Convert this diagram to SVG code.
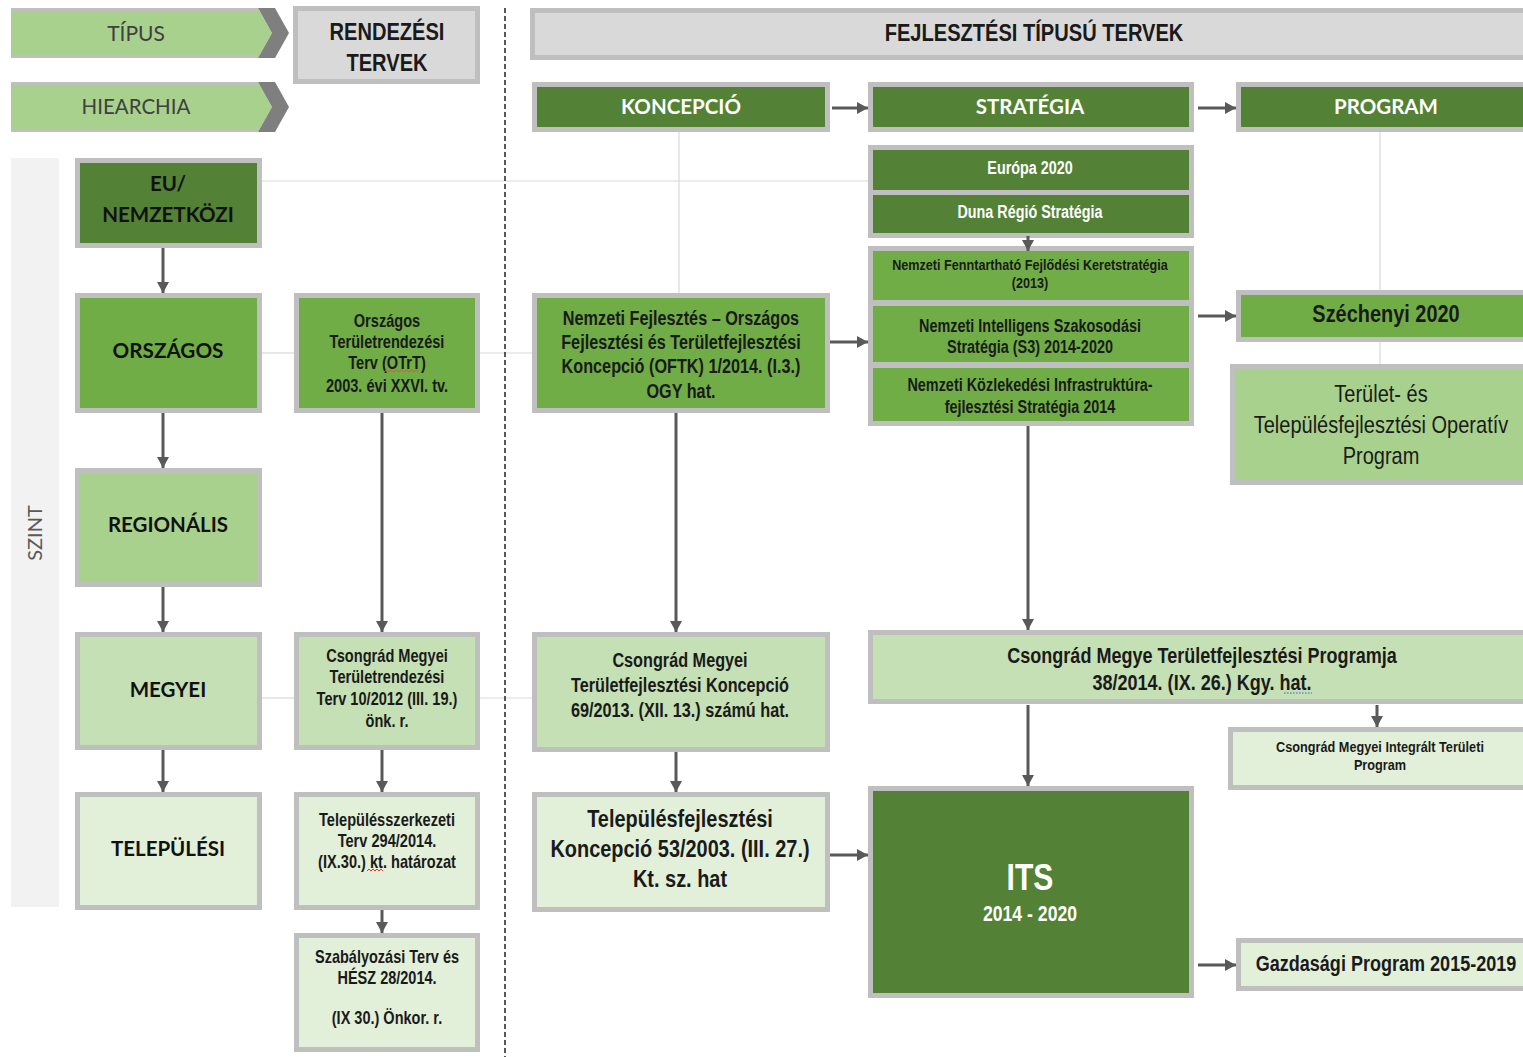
<svg xmlns="http://www.w3.org/2000/svg" width="1523" height="1057" viewBox="0 0 1523 1057">
<defs>
<marker id="ah" markerUnits="userSpaceOnUse" markerWidth="12" markerHeight="12" refX="11" refY="6" orient="auto">
<path d="M0,0 L11,6 L0,12 z" fill="#595959"/>
</marker>
<style>
.box{stroke:#bfbfbf;stroke-width:5}
.g0{fill:#d9d9d9}.g1{fill:#538135}.g2{fill:#70ad47}.g3{fill:#a9d18e}.g4{fill:#c5e0b4}.g5{fill:#e2f0d9}
.c{font-family:Lato,"Open Sans","Liberation Sans",sans-serif;text-anchor:middle}
.n text{font-family:"Liberation Sans",Arial,sans-serif;text-anchor:middle;font-weight:bold;fill:#1a1a1a}
.n.w text{fill:#ffffff}
.n.r text{font-weight:normal}
.w{fill:#ffffff}
.b{font-weight:bold}
.conn line{stroke:#595959;stroke-width:3;marker-end:url(#ah)}
.faint line{stroke:#d9d9d9;stroke-width:1.2}
</style>
</defs>
<rect width="1523" height="1057" fill="#ffffff"/>

<g class="faint">
<line x1="262" y1="181" x2="868" y2="181"/>
<line x1="262" y1="353" x2="294" y2="353"/>
<line x1="480" y1="353" x2="532" y2="353"/>
<line x1="262" y1="698" x2="294" y2="698"/>
<line x1="480" y1="698" x2="532" y2="698"/>
<line x1="679" y1="132" x2="679" y2="293"/>
<line x1="1380" y1="132" x2="1380" y2="290"/>
<line x1="1380" y1="342" x2="1380" y2="364"/>
</g>

<line x1="505" y1="8" x2="505" y2="1057" stroke="#222" stroke-width="1.5" stroke-dasharray="5,3"/>

<g id="tipus">
<polygon points="11,8 258,8 272,33 258,58 11,58" fill="#a9d18e"/>
<polyline points="11,9.5 258,9.5" stroke="#bfbfbf" stroke-width="3"/>
<polyline points="11,56.5 258,56.5" stroke="#bfbfbf" stroke-width="3"/>
<polygon points="258,8 275,8 289,33 275,58 258,58 272,33" fill="#7f7f7f"/>
<text class="c" x="136" y="41" font-size="21" fill="#404040">TÍPUS</text>
</g>
<g id="hierarchia">
<polygon points="11,82 258,82 272,107 258,132 11,132" fill="#a9d18e"/>
<polyline points="11,83.5 258,83.5" stroke="#bfbfbf" stroke-width="3"/>
<polyline points="11,130.5 258,130.5" stroke="#bfbfbf" stroke-width="3"/>
<polygon points="258,82 275,82 289,107 275,132 258,132 272,107" fill="#7f7f7f"/>
<text class="c" x="136" y="114" font-size="20.5" fill="#404040">HIEARCHIA</text>
</g>
<g id="rendezesi">
<rect class="box g0" x="295.5" y="8.5" width="182" height="73"/>
<g class="n" transform="translate(387,0) scale(0.82,1)">
<text x="0" y="40" font-size="24.5">RENDEZÉSI</text>
<text x="0" y="71" font-size="24.5">TERVEK</text>
</g>
</g>
<g id="fejlesztesi">
<rect class="box g0" x="532.5" y="10.5" width="995" height="47"/>
<g class="n" transform="translate(1034,0) scale(0.82,1)">
<text x="0" y="41" font-size="24.5">FEJLESZTÉSI TÍPUSÚ TERVEK</text>
</g>
</g>
<g id="koncepcio">
<rect class="box g1" x="534.5" y="84.5" width="293" height="45"/>
<text class="c b w" x="681" y="114" font-size="20.5">KONCEPCIÓ</text>
</g>
<g id="strategia">
<rect class="box g1" x="870.5" y="84.5" width="321" height="45"/>
<text class="c b w" x="1030" y="114" font-size="20.5">STRATÉGIA</text>
</g>
<g id="program">
<rect class="box g1" x="1238.5" y="84.5" width="290" height="45"/>
<text class="c b w" x="1386" y="114" font-size="20.5">PROGRAM</text>
</g>

<g id="szint">
<rect x="11" y="158" width="48" height="749" fill="#f2f2f2"/>
<text class="c" transform="translate(42,533) rotate(-90)" font-size="20" fill="#595959">SZINT</text>
</g>

<g id="eu">
<rect class="box g1" x="77.5" y="160.5" width="182" height="85"/>
<text class="c b" x="168" y="191" font-size="20.5" fill="#111">EU/</text>
<text class="c b" x="168" y="222" font-size="20.5" fill="#111">NEMZETKÖZI</text>
</g>
<g id="orszagos">
<rect class="box g2" x="77.5" y="295.5" width="182" height="115"/>
<text class="c b" x="168" y="358" font-size="20.7" fill="#111">ORSZÁGOS</text>
</g>
<g id="regionalis">
<rect class="box g3" x="77.5" y="470.5" width="182" height="114"/>
<text class="c b" x="168" y="532" font-size="20.5" fill="#111">REGIONÁLIS</text>
</g>
<g id="megyei">
<rect class="box g4" x="77.5" y="634.5" width="182" height="113"/>
<text class="c b" x="168" y="697" font-size="20.5" fill="#111">MEGYEI</text>
</g>
<g id="telepulesi">
<rect class="box g5" x="77.5" y="794.5" width="182" height="113"/>
<text class="c b" x="168" y="856" font-size="20.5" fill="#111">TELEPÜLÉSI</text>
</g>

<g id="otrt">
<rect class="box g2" x="296.5" y="295.5" width="181" height="115"/>
<g class="n" transform="translate(387,0) scale(0.82,1)">
<text x="0" y="327" font-size="17.8">Országos</text>
<text x="0" y="348" font-size="17.8">Területrendezési</text>
<text x="0" y="369" font-size="17.8">Terv (OTrT)</text>
<text x="0" y="392" font-size="17.8">2003. évi XXVI. tv.</text>
</g>
<path d="M384,372 l2.5,-2 l2.5,2 l2.5,-2 l2.5,2 l2.5,-2 l2.5,2 l2.5,-2 l2.5,2 l2.5,-2 l2.5,2 l2.5,-2 l2.5,2 l2.5,-2 l2.5,2" fill="none" stroke="#e05a2a" stroke-width="1"/>
</g>
<g id="cs-terulrend">
<rect class="box g4" x="296.5" y="634.5" width="181" height="113"/>
<g class="n" transform="translate(387,0) scale(0.82,1)">
<text x="0" y="662" font-size="17.8">Csongrád Megyei</text>
<text x="0" y="683" font-size="17.8">Területrendezési</text>
<text x="0" y="705" font-size="17.8">Terv 10/2012 (III. 19.)</text>
<text x="0" y="727" font-size="17.8">önk. r.</text>
</g>
</g>
<g id="telepszerk">
<rect class="box g5" x="296.5" y="794.5" width="181" height="113"/>
<g class="n" transform="translate(387,0) scale(0.82,1)">
<text x="0" y="826" font-size="17.8">Településszerkezeti</text>
<text x="0" y="847" font-size="17.8">Terv 294/2014.</text>
<text x="0" y="868" font-size="17.8">(IX.30.) kt. határozat</text>
</g>
<path d="M367,871 l2,-2 l2,2 l2,-2 l2,2 l2,-2 l2,2 l2,-2 l2,2" fill="none" stroke="#e03030" stroke-width="1"/>
</g>
<g id="szabalyozasi">
<rect class="box g5" x="296.5" y="935.5" width="181" height="114"/>
<g class="n" transform="translate(387,0) scale(0.82,1)">
<text x="0" y="963" font-size="17.7">Szabályozási Terv és</text>
<text x="0" y="984" font-size="17.7">HÉSZ 28/2014.</text>
<text x="0" y="1024" font-size="17.7">(IX 30.) Önkor. r.</text>
</g>
</g>

<g id="oftk">
<rect class="box g2" x="534.5" y="295.5" width="293" height="115"/>
<g class="n" transform="translate(681,0) scale(0.82,1)">
<text x="0" y="325" font-size="19.8">Nemzeti Fejlesztés – Országos</text>
<text x="0" y="349" font-size="19.8">Fejlesztési és Területfejlesztési</text>
<text x="0" y="373" font-size="19.8">Koncepció (OFTK) 1/2014. (I.3.)</text>
<text x="0" y="398" font-size="19.8">OGY hat.</text>
</g>
</g>
<g id="cs-koncepcio">
<rect class="box g4" x="534.5" y="634.5" width="293" height="115"/>
<g class="n" transform="translate(680,0) scale(0.82,1)">
<text x="0" y="667" font-size="19.8">Csongrád Megyei</text>
<text x="0" y="692" font-size="19.8">Területfejlesztési Koncepció</text>
<text x="0" y="717" font-size="19.8">69/2013. (XII. 13.) számú hat.</text>
</g>
</g>
<g id="telep-koncepcio">
<rect class="box g5" x="534.5" y="794.5" width="293" height="115"/>
<g class="n" transform="translate(680,0) scale(0.82,1)">
<text x="0" y="827" font-size="24.3">Településfejlesztési</text>
<text x="0" y="857" font-size="24.3">Koncepció 53/2003. (III. 27.)</text>
<text x="0" y="887" font-size="24.3">Kt. sz. hat</text>
</g>
</g>

<g id="eu-strategiak">
<rect x="868" y="145" width="326" height="93" fill="#bfbfbf"/>
<rect class="g1" x="873" y="150" width="316" height="40"/>
<rect class="g1" x="873" y="195" width="316" height="38"/>
<g class="n w" transform="translate(1030,0) scale(0.82,1)">
<text x="0" y="174" font-size="17.5">Európa 2020</text>
<text x="0" y="218" font-size="17.5">Duna Régió Stratégia</text>
</g>
</g>
<g id="nemzeti-strategiak">
<rect x="868" y="246" width="326" height="180" fill="#bfbfbf"/>
<rect class="g2" x="873" y="251" width="316" height="49"/>
<rect class="g2" x="873" y="306" width="316" height="56"/>
<rect class="g2" x="873" y="368" width="316" height="53"/>
<g class="n" transform="translate(1030,0) scale(0.82,1)">
<text x="0" y="270" font-size="15.4">Nemzeti Fenntartható Fejlődési Keretstratégia</text>
<text x="0" y="288" font-size="15.4">(2013)</text>
<text x="0" y="332" font-size="17.6">Nemzeti Intelligens Szakosodási</text>
<text x="0" y="353" font-size="17.6">Stratégia (S3) 2014-2020</text>
<text x="0" y="391" font-size="17.6">Nemzeti Közlekedési Infrastruktúra-</text>
<text x="0" y="413" font-size="17.6">fejlesztési Stratégia 2014</text>
</g>
</g>

<g id="szechenyi">
<rect class="box g2" x="1238.5" y="292.5" width="290" height="47"/>
<g class="n" transform="translate(1386,0) scale(0.82,1)">
<text x="0" y="322" font-size="24.3">Széchenyi 2020</text>
</g>
</g>
<g id="top">
<rect class="box g3" x="1232.5" y="366.5" width="296" height="116"/>
<g class="n r" transform="translate(1381,0) scale(0.82,1)">
<text x="0" y="402" font-size="24.4">Terület- és</text>
<text x="0" y="433" font-size="24.4">Településfejlesztési Operatív</text>
<text x="0" y="464" font-size="24.4">Program</text>
</g>
</g>

<g id="cs-program">
<rect class="box g4" x="870.5" y="632.5" width="658" height="69"/>
<g class="n" transform="translate(1202,0) scale(0.82,1)">
<text x="0" y="663" font-size="22">Csongrád Megye Területfejlesztési Programja</text>
<text x="0" y="690" font-size="22">38/2014. (IX. 26.) Kgy. hat.</text>
</g>
<line x1="1284" y1="693" x2="1312" y2="693" stroke="#3b5bdb" stroke-width="1.2" stroke-dasharray="1.5,1.5"/>
</g>
<g id="cs-itp">
<rect class="box g5" x="1230.5" y="729.5" width="298" height="58"/>
<g class="n" transform="translate(1380,0) scale(0.82,1)">
<text x="0" y="752" font-size="15.5">Csongrád Megyei Integrált Területi</text>
<text x="0" y="770" font-size="15.5">Program</text>
</g>
</g>
<g id="its">
<rect class="box g1" x="870.5" y="788.5" width="321" height="207"/>
<g class="n w" transform="translate(1030,0) scale(0.82,1)">
<text x="0" y="890" font-size="36.7">ITS</text>
<text x="0" y="921" font-size="21.5">2014 - 2020</text>
</g>
</g>
<g id="gazdasagi">
<rect class="box g5" x="1238.5" y="940.5" width="290" height="48"/>
<g class="n" transform="translate(1386,0) scale(0.82,1)">
<text x="0" y="971" font-size="22">Gazdasági Program 2015-2019</text>
</g>
</g>

<g class="conn">
<line x1="832" y1="108" x2="868" y2="108"/>
<line x1="1198" y1="108" x2="1236" y2="108"/>
<line x1="163" y1="248" x2="163" y2="293"/>
<line x1="163" y1="413" x2="163" y2="468"/>
<line x1="163" y1="587" x2="163" y2="632"/>
<line x1="163" y1="750" x2="163" y2="792"/>
<line x1="382" y1="413" x2="382" y2="632"/>
<line x1="382" y1="750" x2="382" y2="792"/>
<line x1="382" y1="910" x2="382" y2="933"/>
<line x1="676" y1="413" x2="676" y2="632"/>
<line x1="676" y1="752" x2="676" y2="792"/>
<line x1="830" y1="342" x2="868" y2="342"/>
<line x1="1198" y1="316" x2="1236" y2="316"/>
<line x1="1028" y1="236" x2="1028" y2="251"/>
<line x1="1028" y1="426" x2="1028" y2="630"/>
<line x1="1028" y1="705" x2="1028" y2="786"/>
<line x1="1377" y1="705" x2="1377" y2="727"/>
<line x1="830" y1="855" x2="868" y2="855"/>
<line x1="1198" y1="965" x2="1236" y2="965"/>
</g>
</svg>
